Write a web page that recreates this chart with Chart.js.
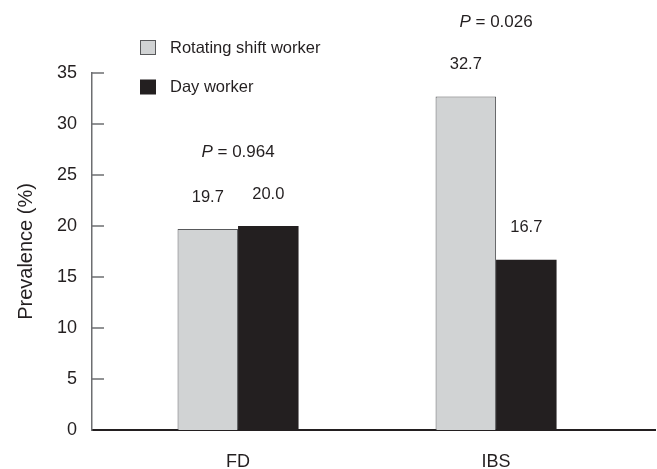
<!DOCTYPE html>
<html><head><meta charset="utf-8">
<script src="https://cdn.jsdelivr.net/npm/chart.js@4.4.1/dist/chart.umd.min.js"></script>
<style>html,body{margin:0;padding:0;background:#fff}#wrap{width:657px;height:469px}</style>
</head><body><div id="wrap"><canvas id="c" width="657" height="469"></canvas></div>
<script>
const categories = ['FD', 'IBS'];
const seriesNames = ['Rotating shift worker', 'Day worker'];
const rotatingShift = [19.7, 32.7];
const dayWorker = [20.0, 16.7];
const pValues = ['0.964', '0.026'];
const yTicks = [0, 5, 10, 15, 20, 25, 30, 35];

const FF = '"Liberation Sans", Arial, Helvetica, sans-serif';
const TXT = '#231f20';
const GRAY = '#d1d3d4';
const BLACK = '#231f20';

const inwardTicks = {
  id: 'inwardTicks',
  beforeDatasetsDraw(chart) {
    const y = chart.scales.y, ctx = chart.ctx;
    ctx.save();
    ctx.strokeStyle = '#6d6e71';
    ctx.lineWidth = 1.5;
    y.ticks.forEach(t => {
      if (t.value === y.min) return;
      const py = Math.round(y.getPixelForValue(t.value));
      ctx.beginPath();
      ctx.moveTo(y.right, py);
      ctx.lineTo(y.right + 12, py);
      ctx.stroke();
    });
    ctx.restore();
  }
};

const labelsPlugin = {
  id: 'labelsPlugin',
  afterDatasetsDraw(chart) {
    const ctx = chart.ctx;
    ctx.save();
    ctx.fillStyle = TXT;
    ctx.textAlign = 'center';
    ctx.textBaseline = 'middle';
    ctx.font = '16.5px ' + FF;
    chart.data.datasets.forEach((ds, di) => {
      const meta = chart.getDatasetMeta(di);
      meta.data.forEach((bar, i) => {
        ctx.fillText(ds.data[i].y.toFixed(1), bar.x, bar.y - 32);
      });
    });
    // P values
    const xs = chart.scales.x, ys = chart.scales.y;
    categories.forEach((c, i) => {
      const maxV = Math.max(rotatingShift[i], dayWorker[i]);
      const px = xs.getPixelForValue(i);
      const py = ys.getPixelForValue(maxV) - 74;
      ctx.font = 'italic 17px ' + FF;
      const wP = ctx.measureText('P').width;
      ctx.font = '17px ' + FF;
      const rest = ' = ' + pValues[i];
      const wR = ctx.measureText(rest).width;
      const x0 = px - (wP + wR) / 2;
      ctx.textAlign = 'left';
      ctx.font = 'italic 17px ' + FF;
      ctx.fillText('P', x0, py);
      ctx.font = '17px ' + FF;
      ctx.fillText(rest, x0 + wP, py);
      ctx.textAlign = 'center';
    });
    // legend
    ctx.textAlign = 'left';
    ctx.font = '16.5px ' + FF;
    chart.data.datasets.forEach((ds, di) => {
      const by = 40 + di * 39.5;
      ctx.fillStyle = ds.backgroundColor;
      ctx.fillRect(140, by, 16, 15);
      if (ds.borderWidth) {
        ctx.strokeStyle = ds.borderColor;
        ctx.lineWidth = 1;
        ctx.strokeRect(140.5, by + 0.5, 15, 14);
      }
      ctx.fillStyle = TXT;
      ctx.fillText(ds.label, 170, by + 8);
    });
    ctx.restore();
  }
};

new Chart(document.getElementById('c'), {
  type: 'bar',
  data: {
    datasets: [
      { label: seriesNames[0], data: rotatingShift.map((v, i) => ({ x: i, y: v })),
        backgroundColor: GRAY, borderColor: '#58595b', borderWidth: 1 },
      { label: seriesNames[1], data: dayWorker.map((v, i) => ({ x: i, y: v })),
        backgroundColor: BLACK, borderColor: BLACK, borderWidth: 0 }
    ]
  },
  options: {
    responsive: false,
    animation: false,
    devicePixelRatio: 1,
    categoryPercentage: 0.469,
    barPercentage: 1,
    layout: { padding: { top: 73, right: 2, bottom: 0, left: 0 } },
    plugins: { legend: { display: false }, tooltip: { enabled: false } },
    scales: {
      x: {
        type: 'linear', min: -0.566, max: 1.616, offset: false,
        grid: { display: false, drawTicks: false },
        border: { display: true, color: '#231f20', width: 2 },
        afterBuildTicks: s => { s.ticks = categories.map((c, i) => ({ value: i })); },
        ticks: { autoSkip: false, maxRotation: 0, padding: 21, color: TXT,
          font: { family: FF, size: 18 }, callback: v => categories[v] ?? '' },
        afterFit: s => { s.height = 39; }
      },
      y: {
        min: 0, max: 35,
        afterBuildTicks: s => { s.ticks = yTicks.map(v => ({ value: v })); },
        grid: { display: false, drawTicks: false },
        border: { display: true, color: '#6d6e71', width: 1.5 },
        ticks: { padding: 15, color: TXT, font: { family: FF, size: 18 } },
        title: { display: true, text: 'Prevalence (%)', color: TXT,
          font: { family: FF, size: 20 }, padding: { top: 14, bottom: 0 } },
        afterFit: s => { s.width = 92; }
      }
    }
  },
  plugins: [inwardTicks, labelsPlugin]
});
</script></body></html>
